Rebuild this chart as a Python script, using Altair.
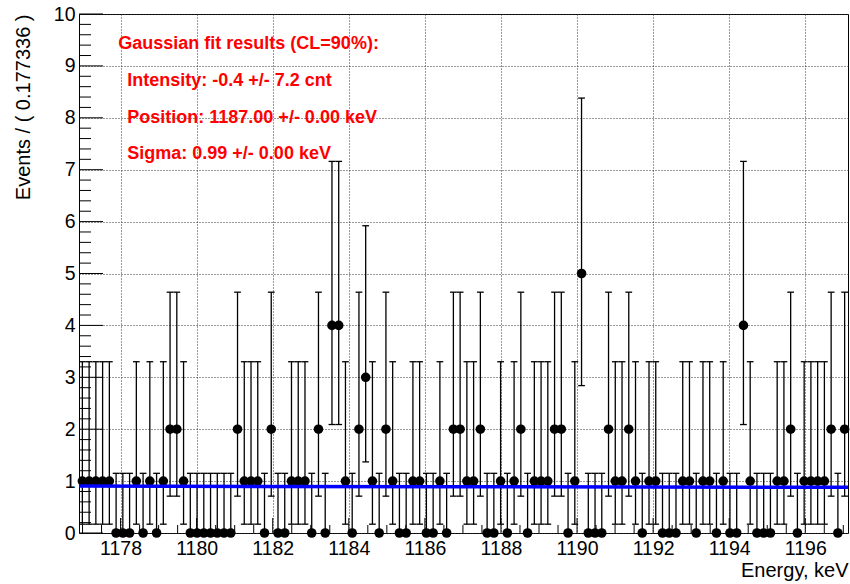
import altair as alt
import pandas as pd

# ---- data ----
X_MIN = 1176.907          # left edge of first bin (keV)
BIN_W = 0.177336          # bin width (keV)
COUNTS = [
    1, 1, 1, 1, 1, 0, 0, 0, 1, 0,
    1, 0, 1, 2, 2, 1, 0, 0, 0, 0,
    0, 0, 0, 2, 1, 1, 1, 0, 2, 0,
    0, 1, 1, 1, 0, 2, 0, 4, 4, 1,
    0, 2, 3, 1, 0, 2, 1, 0, 0, 1,
    1, 0, 0, 1, 0, 2, 2, 1, 1, 2,
    0, 0, 1, 0, 1, 2, 0, 1, 1, 1,
    2, 2, 0, 1, 5, 0, 0, 0, 2, 1,
    1, 2, 1, 0, 1, 1, 0, 0, 0, 1,
    1, 0, 1, 1, 0, 1, 0, 0, 4, 1,
    0, 0, 0, 1, 1, 2, 0, 1, 1, 1,
    1, 2, 0, 2,
]
# Poisson interval ends per count
ERR_LO = [0.0, 0.17, 0.71, 1.37, 2.09, 2.84]
ERR_HI = [1.15, 3.30, 4.64, 5.92, 7.16, 8.38]

FIT_X = [1176.907, 1187.0, 1197.123]
FIT_Y = [0.905, 0.89, 0.882]

X_TICK_LABELS = [1178, 1180, 1182, 1184, 1186, 1188, 1190, 1192, 1194, 1196]
Y_TICK_LABELS = [0, 1, 2, 3, 4, 5, 6, 7, 8, 9, 10]
X_MINOR = [1177.0 + 0.5 * i for i in range(41)]
Y_MINOR = [round(0.2 * i, 2) for i in range(51)]

ANNOT = [
    "Gaussian fit results (CL=90%):",
    "Intensity: -0.4 +/- 7.2 cnt",
    "Position: 1187.00 +/- 0.00 keV",
    "Sigma: 0.99 +/- 0.00 keV",
]

N = len(COUNTS)
X_MAX = X_MIN + N * BIN_W

rows = []
for k, c in enumerate(COUNTS):
    lo_edge = X_MIN + k * BIN_W
    rows.append({
        "x": lo_edge + BIN_W / 2,
        "xlo": lo_edge,
        "xhi": lo_edge + BIN_W,
        "y": c,
        "elo": ERR_LO[c],
        "ehi": ERR_HI[c],
    })
df = pd.DataFrame(rows)

W, H = 769, 519
FONT = "Liberation Sans"

xs = alt.Scale(domain=[X_MIN, X_MAX], nice=False, zero=False)
ys = alt.Scale(domain=[0, 10], nice=False, zero=True)

x_axis = alt.Axis(
    values=X_TICK_LABELS, format="d", ticks=False, domain=False,
    labelFont=FONT, labelFontSize=19.5, labelColor="black", labelPadding=6,
    labelFlush=False, labelOverlap=False,
    grid=True, gridDash=[1, 2], gridColor="#333", gridOpacity=1, gridWidth=1,
    title="Energy, keV", titleFont=FONT, titleFontSize=20, titleFontWeight="normal",
    titleColor="black", titleAnchor="end", titleAlign="right",
    titleBaseline="alphabetic", titleY=43,
)
y_axis = alt.Axis(
    values=Y_TICK_LABELS, format="d", ticks=False, domain=False,
    labelFont=FONT, labelFontSize=19.5, labelColor="black", labelPadding=4,
    labelFlush=False, labelOverlap=False,
    grid=True, gridDash=[1, 2], gridColor="#333", gridOpacity=1, gridWidth=1,
    title="Events / ( 0.177336 )", titleFont=FONT, titleFontSize=20,
    titleFontWeight="normal", titleColor="black", titleAnchor="end",
    titleBaseline="alphabetic", titleX=-50, titleY=0, titleAlign="right",
)


def X(field):
    return alt.X(f"{field}:Q", scale=xs, axis=x_axis)


def Y(field):
    return alt.Y(f"{field}:Q", scale=ys, axis=y_axis)


base = alt.Chart(df)

points = base.mark_circle(size=92, color="black", opacity=1).encode(x=X("x"), y=Y("y"))

vbars = base.mark_rule(color="black", strokeWidth=1.3).encode(
    x=X("x"), y=Y("elo"), y2="ehi")
hbars = base.mark_rule(color="black", strokeWidth=1.3).encode(
    x=X("xlo"), x2="xhi", y=Y("y"))
cap_hi = base.mark_rule(color="black", strokeWidth=1.3).encode(
    x=X("xlo"), x2="xhi", y=Y("ehi"))
cap_lo = base.mark_rule(color="black", strokeWidth=1.3).encode(
    x=X("xlo"), x2="xhi", y=Y("elo"))

fit = alt.Chart(pd.DataFrame({"fx": FIT_X, "fy": FIT_Y})).mark_line(
    color="#0000ff", strokeWidth=3.5, clip=True
).encode(x=X("fx"), y=Y("fy"))

# inside ticks
xt = pd.DataFrame({"t": X_MINOR})
xt["major"] = [(v % 2 == 0) for v in X_MINOR]
x_major_ticks = alt.Chart(xt[xt["major"]]).mark_rule(color="black", strokeWidth=1).encode(
    x=X("t"), y=alt.value(H), y2=alt.value(H - 15))
x_minor_ticks = alt.Chart(xt[~xt["major"]]).mark_rule(color="black", strokeWidth=1).encode(
    x=X("t"), y=alt.value(H), y2=alt.value(H - 8))

yt = pd.DataFrame({"t": Y_MINOR})
yt["major"] = [abs(v - round(v)) < 1e-6 for v in Y_MINOR]
y_major_ticks = alt.Chart(yt[yt["major"]]).mark_rule(color="black", strokeWidth=1).encode(
    y=Y("t"), x=alt.value(0), x2=alt.value(24))
y_minor_ticks = alt.Chart(yt[~yt["major"]]).mark_rule(color="black", strokeWidth=1).encode(
    y=Y("t"), x=alt.value(0), x2=alt.value(12))

# annotation text
text_pos = [(39.3, 34.5), (48.3, 71.5), (48.3, 108.5), (48.3, 144.5)]
texts = []
for line, (tx, ty) in zip(ANNOT, text_pos):
    texts.append(
        alt.Chart(alt.Data(values=[{}])).mark_text(
            align="left", baseline="alphabetic", font=FONT, fontWeight="bold",
            fontSize=18, color="#ff0000"
        ).encode(x=alt.value(tx), y=alt.value(ty), text=alt.value(line))
    )

chart = alt.layer(
    x_major_ticks, x_minor_ticks, y_major_ticks, y_minor_ticks,
    vbars, hbars, cap_hi, cap_lo, points, fit, *texts
).properties(
    width=W, height=H,
    padding={"left": 79, "top": 14, "right": 2, "bottom": 51},
    autosize=alt.AutoSizeParams(type="none"),
    background="white",
).configure_view(stroke="black", strokeWidth=1)

chart.save("out.html", embed_options={"renderer": "svg", "actions": False})
